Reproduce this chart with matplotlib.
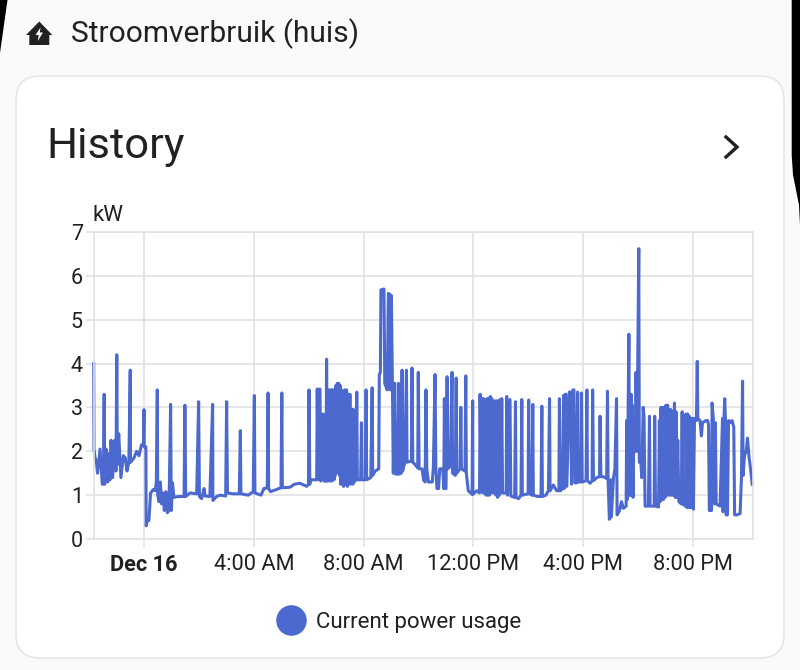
# Stroomverbruik (huis): history card with the current power usage line

import matplotlib
matplotlib.use("Agg")
import matplotlib.pyplot as plt
from matplotlib.lines import Line2D
from matplotlib.patches import FancyBboxPatch, Polygon

plt.rcParams['font.family'] = ['Roboto', 'DejaVu Sans']

# 1. Values, hours since midnight Dec 16 and kW
hours_night = [-1.83, -1.82, -1.77, -1.74, -1.69, -1.60, -1.52, -1.48, -1.45, -1.43, -1.38, -1.32, -1.27, -1.24,
               -1.20, -1.14, -1.07, -1.02, -0.99, -0.97, -0.92, -0.84, -0.75, -0.68, -0.62, -0.55, -0.50, -0.49,
               -0.36, -0.27, -0.18, -0.09, -0.02, 0.00, 0.01, 0.07, 0.08, 0.12, 0.18, 0.24, 0.34, 0.41, 0.45,
               0.485, 0.50, 0.55, 0.595, 0.64, 0.69, 0.74, 0.80, 0.85, 0.91, 0.97, 0.995, 1.04, 1.09, 1.25, 1.46,
               1.49, 1.52, 1.68, 1.92, 1.99, 2.02, 2.10, 2.19, 2.23, 2.40, 2.50, 2.51, 2.65, 2.77, 2.975, 3.01,
               3.04, 3.25, 3.47, 3.51, 3.53, 3.80, 3.98, 4.02, 4.04, 4.26, 4.37, 4.49, 4.52, 4.54, 4.61, 4.83,
               4.99, 5.02, 5.04, 5.32, 5.48, 5.68, 5.93, 5.99, 6.01, 6.04]
kw_night = [4.0, 2.05, 1.8, 1.8, 1.5, 2.05, 1.25, 1.25, 3.3, 1.25, 2.05, 1.3, 1.95, 1.35,
            2.25, 1.4, 2.25, 1.55, 4.2, 1.7, 2.4, 1.4, 1.9, 1.85, 1.55, 1.75, 3.85, 1.75,
            1.85, 2.0, 1.9, 2.15, 2.15, 2.95, 2.1, 2.1, 0.3, 0.42, 0.42, 1.05, 1.13, 1.1, 1.3,
            3.4, 1.0, 0.85, 1.3, 0.8, 1.05, 0.65, 1.08, 0.6, 0.65, 3.07, 0.65, 1.28, 0.95, 0.97, 0.97,
            3.05, 0.97, 1.05, 1.03, 3.13, 0.97, 0.92, 1.15, 0.98, 0.97, 3.07, 0.88, 0.97, 1.0, 0.98, 3.13,
            1.05, 1.03, 1.03, 2.47, 1.03, 1.0, 1.08, 3.27, 1.05, 1.0, 1.15, 1.17, 3.33, 1.15, 1.08, 1.13,
            1.17, 3.33, 1.17, 1.18, 1.25, 1.27, 1.2, 1.25, 3.4, 1.25]

hours_morning = [6.05, 6.29, 6.31, 6.34, 6.39, 6.41, 6.44, 6.51, 6.53, 6.56, 6.63, 6.65, 6.68, 6.74, 6.76, 6.81,
                 6.84, 6.86, 6.90, 6.92, 6.96, 6.99, 7.02, 7.04, 7.07, 7.09, 7.12, 7.14, 7.16, 7.19, 7.22, 7.24,
                 7.27, 7.31, 7.33, 7.36, 7.38, 7.41, 7.44, 7.46, 7.50, 7.53, 7.56, 7.58, 7.61, 7.63, 7.65, 7.72,
                 7.75, 7.77, 7.89, 7.92, 7.94, 8.06,
                 8.09, 8.11, 8.26, 8.31, 8.33, 8.42, 8.55, 8.57, 8.61, 8.63, 8.74, 8.77, 8.86, 8.90, 8.95, 8.97,
                 9.01, 9.05, 9.08, 9.13, 9.16, 9.24, 9.27, 9.29, 9.37, 9.40, 9.42, 9.50, 9.56, 9.58, 9.74, 9.76,
                 9.79, 9.87, 9.97, 9.99, 10.02, 10.13, 10.18, 10.24, 10.27, 10.30, 10.36, 10.50, 10.54, 10.60,
                 10.63, 10.67, 10.73, 10.77, 10.88, 10.92, 10.94, 10.97, 11.00, 11.04, 11.06, 11.15, 11.22, 11.24,
                 11.34, 11.37, 11.39, 11.51, 11.54, 11.56, 11.69, 11.72, 11.74, 11.81, 11.95]
kw_morning = [1.35, 1.35, 3.42, 1.35, 3.42, 3.42, 1.32, 2.85, 2.85, 1.32, 1.32, 4.1, 1.32, 3.4, 1.32, 3.4,
              1.32, 3.4, 3.4, 1.35, 1.45, 3.5, 1.5, 3.55, 1.6, 3.55, 1.45, 3.5, 1.25, 3.4, 1.25, 3.35,
              1.2, 3.4, 1.25, 3.35, 3.4, 1.2, 3.3, 1.25, 3.3, 1.25, 2.95, 2.95, 1.25, 2.95, 1.3, 1.35,
              3.35, 1.35, 1.35, 2.65, 1.35, 1.35,
              3.4, 1.35, 1.4, 3.45, 1.45, 1.55, 1.6, 3.75, 3.8, 5.68, 5.7, 3.55, 3.4, 5.6, 5.58, 3.4,
              5.55, 3.4, 1.5, 3.55, 1.48, 1.48, 3.55, 1.48, 1.5, 3.85, 1.55, 1.75, 3.85, 1.75, 1.78, 3.9,
              1.75, 1.7, 1.62, 3.8, 1.6, 1.6, 1.35, 1.3, 3.4, 1.6, 1.3, 1.3, 1.65, 3.75,
              1.6, 1.15, 1.15, 1.6, 1.6, 1.15, 3.2, 1.15, 1.15, 3.7, 1.6, 1.65, 3.8, 1.5,
              1.45, 3.67, 1.5, 1.6, 3.0, 1.6, 1.55, 3.72, 1.5, 1.1, 1.02]

hours_afternoon = [11.97, 11.98, 12.12, 12.22, 12.24, 12.28, 12.31, 12.34, 12.37, 12.40, 12.43, 12.46, 12.49, 12.52,
                   12.55, 12.58, 12.61, 12.64, 12.67, 12.70, 12.73, 12.76, 12.79, 12.82, 12.85, 12.88, 12.91, 12.94,
                   12.97, 13.00, 13.03, 13.06, 13.19, 13.21, 13.24,
                   13.33, 13.36, 13.50, 13.53, 13.55, 13.64, 13.73, 13.76, 13.78, 13.99, 14.01, 14.04, 14.13, 14.16,
                   14.18, 14.33, 14.46, 14.49, 14.51, 14.64, 14.73, 14.77, 14.79, 14.91, 15.03, 15.11, 15.13, 15.16,
                   15.25, 15.28, 15.30, 15.34, 15.37, 15.40, 15.49, 15.54, 15.57, 15.62, 15.66, 15.69, 15.76, 15.79,
                   15.81, 15.91, 15.93, 15.96, 16.10, 16.13, 16.15, 16.25, 16.32, 16.34, 16.37, 16.49, 16.59, 16.61,
                   16.64, 16.73, 16.85, 16.88, 16.90, 16.95, 17.00, 17.02, 17.10, 17.15, 17.21, 17.23, 17.32]
kw_afternoon = [3.15, 1.02, 1.1, 1.05, 3.3, 1.1, 3.2, 1.05, 3.2, 1.05, 3.15, 1.0, 3.2, 1.0,
                3.2, 1.0, 3.25, 1.05, 3.2, 1.05, 2.6, 1.05, 3.15, 1.0, 3.15, 0.95, 3.15, 1.0,
                3.18, 1.05, 3.2, 1.05, 1.05, 3.25, 1.0,
                3.18, 0.98, 0.95, 3.13, 0.95, 0.92, 1.0, 3.18, 1.0, 1.03, 3.17, 1.03, 1.0, 3.07,
                1.0, 0.97, 0.97, 3.03, 0.97, 1.0, 1.1, 3.2, 1.1, 1.23, 1.1, 1.1, 3.2, 1.1,
                1.15, 3.27, 1.15, 3.3, 3.3, 1.2, 3.35, 3.35, 1.25, 3.4, 3.4, 1.28, 1.28, 3.35,
                1.3, 1.3, 3.33, 1.3, 1.33, 3.4, 1.33, 1.27, 1.33, 3.4, 1.33, 1.4, 1.42, 2.8,
                1.42, 1.42, 1.38, 3.37, 1.38, 0.45, 1.35, 0.5, 1.4, 1.6, 3.2, 0.55, 0.65]

hours_evening = [17.39, 17.46, 17.56, 17.58, 17.60, 17.63, 17.66, 17.68, 17.70, 17.72, 17.74, 17.76, 17.79, 17.81,
                 17.85, 17.89, 17.92,
                 17.96, 17.98, 18.02, 18.04, 18.09, 18.13, 18.18, 18.21, 18.25, 18.37, 18.41, 18.43, 18.58, 18.60,
                 18.63, 18.74, 18.77, 18.80, 18.83, 18.86, 18.89, 18.92, 18.95, 18.98, 19.01, 19.04, 19.07, 19.10,
                 19.13, 19.16, 19.19, 19.22, 19.25, 19.28, 19.32, 19.35, 19.38, 19.40, 19.44, 19.48, 19.57, 19.60,
                 19.62, 19.72, 19.74, 19.77, 19.80, 19.83, 19.86, 19.89, 19.92, 19.95, 19.98, 20.01,
                 20.05, 20.08, 20.12, 20.15, 20.17, 20.25, 20.30, 20.34, 20.46,
                 20.53, 20.56, 20.59, 20.67, 20.69, 20.74, 20.78, 20.81, 20.84, 20.98, 21.07, 21.09, 21.12, 21.15,
                 21.18, 21.20, 21.25, 21.29, 21.40, 21.42, 21.48, 21.51, 21.59, 21.71, 21.76, 21.80, 21.82, 21.87,
                 21.93, 21.98, 22.03, 22.10, 22.15]
kw_evening = [0.85, 0.7, 0.75, 2.7, 0.9, 2.7, 4.67, 1.0, 3.3, 1.0, 3.3, 1.0, 3.05, 0.95,
              2.7, 2.0, 3.8,
              2.0, 3.8, 6.62, 1.75, 1.8, 1.4, 3.0, 2.8, 0.75, 0.75, 2.8, 0.75, 0.75, 2.8,
              0.75, 0.73, 2.7, 0.85, 3.0, 0.9, 3.0, 0.9, 3.0, 0.95, 3.05, 1.0, 3.05, 1.0,
              2.95, 1.0, 2.95, 1.0, 2.9, 1.0, 3.1, 0.95, 2.9, 0.95, 2.25, 0.85, 0.8, 2.9,
              0.8, 0.75, 2.85, 0.72, 2.85, 0.72, 2.8, 0.72, 2.75, 0.72, 2.75, 0.68,
              2.75, 2.7, 2.7, 4.05, 2.75, 2.7, 2.35, 2.65, 2.7,
              2.7, 2.6, 0.65, 0.65, 3.1, 2.7, 0.8, 2.65, 0.8, 0.75, 2.75, 0.62, 2.7, 3.2,
              2.7, 0.55, 0.55, 2.7, 2.65, 2.7, 2.55, 0.55, 0.55, 0.58, 1.4, 3.6, 1.45, 1.9,
              2.0, 2.3, 1.9, 1.55, 1.25]

hours = hours_night + hours_morning + hours_afternoon + hours_evening
power_kw = kw_night + kw_morning + kw_afternoon + kw_evening

x_tick_hours = [0, 4, 8, 12, 16, 20]
x_tick_labels = ['Dec 16', '4:00 AM', '8:00 AM', '12:00 PM', '4:00 PM', '8:00 PM']
y_ticks = [0, 1, 2, 3, 4, 5, 6, 7]

BLUE = '#4b69cf'
GRID = '#e2e2e2'
INK = '#212121'

# 2. Figure and a background layer in pixel coordinates
fig = plt.figure(figsize=(8, 6.7), dpi=100, facecolor='#fafafa')
bg = fig.add_axes([0, 0, 1, 1], zorder=0)
bg.set_xlim(0, 800)
bg.set_ylim(670, 0)
bg.axis('off')

# rounded card
bg.add_patch(FancyBboxPatch((16, 76), 768, 582, boxstyle='round,pad=0,rounding_size=24',
                            facecolor='white', edgecolor='#e4e4e4', linewidth=1.1))

# black phone corners
bg.add_patch(Polygon([(0, 0), (7.5, 0), (0, 53)], facecolor='black', edgecolor='none'))
bg.add_patch(Polygon([(791.7, 0), (791.7, 155), (793, 175), (799, 205), (800, 225), (800, 0)],
                     facecolor='black', edgecolor='none'))

# house icon with bolt
bg.add_patch(Polygon([(39.3, 21.5), (52.3, 35), (49.3, 35), (49.3, 45), (29.3, 45), (29.3, 35), (26, 35)],
                     facecolor=INK, edgecolor='none'))
bg.add_patch(Polygon([(40.5, 27.5), (35.5, 35), (38.7, 35), (37.8, 41), (43, 32.5), (39.8, 32.5)],
                     facecolor='white', edgecolor='none'))

# chevron
bg.plot([726, 737, 726], [137, 147, 157], color=INK, linewidth=2.4, solid_joinstyle='miter')

bg.text(71, 33.5, 'Stroomverbruik (huis)', fontsize=21.5, color=INK, va='center', ha='left')
bg.text(46, 146.5, 'History', fontsize=31.3, color=INK, va='center', ha='left')
bg.text(93, 215.5, 'kW', fontsize=16, color=INK, va='center', ha='left')

# 3. The chart itself
ax = fig.add_axes([94 / 800, 1 - 539 / 670, (753 - 94) / 800, (539 - 232) / 670], zorder=1)
ax.patch.set_alpha(0)
ax.plot(hours, power_kw, color=BLUE, linewidth=2.2, solid_joinstyle='round', clip_on=False)

ax.set_xlim(-1.82, 22.18)
ax.set_ylim(0, 7)
ax.set_yticks(y_ticks)
ax.set_xticks(x_tick_hours)
ax.set_xticklabels(x_tick_labels)
ax.get_xticklabels()[0].set_fontweight('bold')

ax.grid(True, color=GRID, linewidth=1.2)
ax.set_axisbelow(True)
for spine in ax.spines.values():
    spine.set_color(GRID)
    spine.set_linewidth(1.2)
ax.tick_params(axis='x', length=6, width=1.2, color=GRID, labelsize=15.7, labelcolor=INK, pad=5)
ax.tick_params(axis='y', length=6, width=1.2, color=GRID, labelsize=15.5, labelcolor=INK, pad=2)

# 4. Legend
handle = Line2D([], [], marker='o', markersize=21, linestyle='none', color=BLUE, label='Current power usage')
fig.legend(handles=[handle], loc='center', bbox_to_anchor=(395 / 800, 1 - 622.5 / 670), frameon=False,
           prop={'size': 16}, handletextpad=0.1, labelcolor=INK)

fig.savefig('out.png', dpi=100, facecolor=fig.get_facecolor())
